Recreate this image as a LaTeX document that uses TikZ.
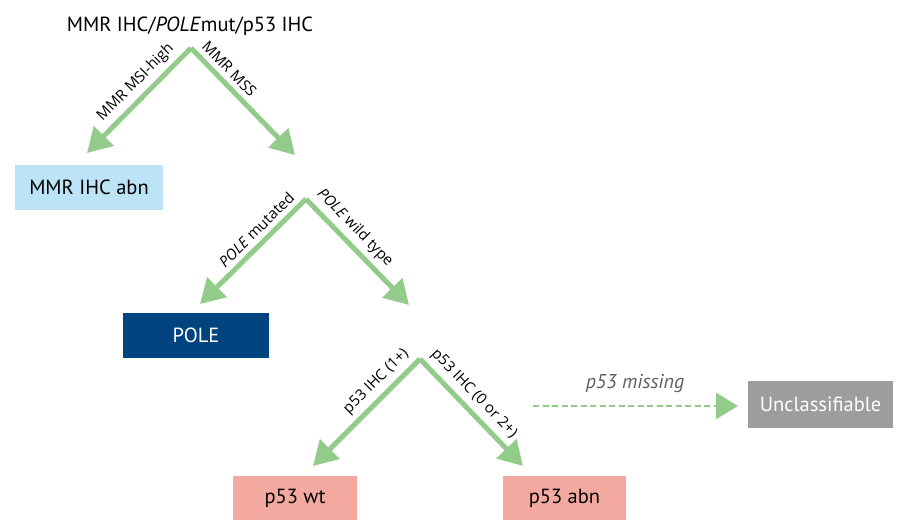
\documentclass[tikz,border=0pt]{standalone}
\usepackage{fontspec}
\setmainfont{PT Sans}
\newfontfamily\lblfont{Open Sans}
\usetikzlibrary{arrows.meta}
\definecolor{arrowgreen}{HTML}{92CB8A}
\definecolor{lightblue}{HTML}{BCE3F6}
\definecolor{darkblue}{HTML}{00447F}
\definecolor{pinkbox}{HTML}{F4A9A0}
\definecolor{graybox}{HTML}{9D9D9C}
\definecolor{misstext}{HTML}{5E5E5E}
\tikzset{
  bigarrow/.style={draw=arrowgreen, line width=5pt, -{Triangle[length=24pt,width=27pt]}},
  dasharrow/.style={draw=arrowgreen, line width=2.2pt, dash pattern=on 6pt off 3.5pt, -{Triangle[length=22pt,width=26pt]}},
  lbl/.style={font=\lblfont\fontsize{15}{17}\selectfont, sloped, above, inner sep=5pt},
  boxnode/.style={minimum height=45pt, inner sep=0pt, font=\fontsize{20.5}{22}\selectfont},
}
\begin{document}
\begin{tikzpicture}[x=1pt,y=-1pt]
\useasboundingbox (0,0) rectangle (897,521);
% title
\node[font=\fontsize{20.5}{22}\selectfont, inner sep=0pt] (title) at (190,26) {MMR IHC/\textit{POLE}mut/p53 IHC};
% boxes
\node[boxnode, fill=lightblue, minimum width=148pt] (mmr) at (89,187.5) {MMR IHC abn};
\node[boxnode, fill=darkblue, text=white, minimum width=146pt] (pole) at (196,335.5) {POLE};
\node[boxnode, fill=pinkbox, minimum width=124pt, minimum height=44pt] (wt) at (295,498) {p53 wt};
\node[boxnode, fill=pinkbox, minimum width=123pt, minimum height=44pt] (abn) at (564.5,498) {p53 abn};
\node[boxnode, fill=graybox, text=white, minimum width=145pt, minimum height=47pt] (uncl) at (820.5,404.5) {Unclassifiable};
% coordinates
\coordinate (a1) at (191,48);
\coordinate (t1l) at (87,153);
\coordinate (t1r) at (295,155);
\coordinate (a2) at (306,199);
\coordinate (t2l) at (200,304);
\coordinate (t2r) at (409,305);
\coordinate (a3) at (420,359);
\coordinate (t3l) at (313,466);
\coordinate (t3r) at (523,466);
\coordinate (ds) at (533,406);
\coordinate (de) at (738,406);
% arrows
\draw[bigarrow] (a1) -- node[lbl, pos=0.43] {MMR MSI-high} (t1l);
\draw[bigarrow] (a1) -- node[lbl, pos=0.28] {MMR MSS} (t1r);
\draw[bigarrow] (a2) -- node[lbl, pos=0.38] {\textit{POLE} mutated} (t2l);
\draw[bigarrow] (a2) -- node[lbl, pos=0.37] {\textit{POLE} wild type} (t2r);
\draw[bigarrow] (a3) -- node[lbl, pos=0.31] {p53 IHC (1+)} (t3l);
\draw[bigarrow] (a3) -- node[lbl, pos=0.42] {p53 IHC (0 or 2+)} (t3r);
\draw[dasharrow] (ds) -- (de);
\node[font=\itshape\fontsize{20}{22}\selectfont, text=misstext] (miss) at (635,384) {p53 missing};
\end{tikzpicture}
\end{document}
